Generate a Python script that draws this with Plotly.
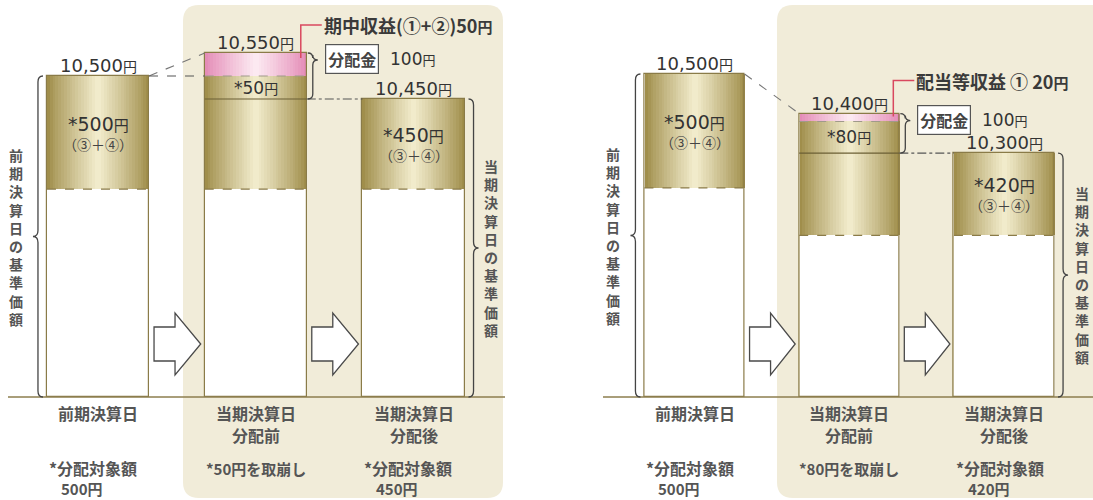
import plotly.graph_objects as go

W, H = 1093, 500
FONT = "Noto Sans CJK JP"
NUMFONT = "DejaVu Sans, Noto Sans CJK JP"
TXT = "#333333"
GRAYTXT = "#555555"

# ---------------- data ----------------
cat_top = ["前期決算日", "当期決算日", "当期決算日"]
cat_sub = ["", "分配前", "分配後"]
categories = ["前期決算日", "当期決算日 分配前", "当期決算日 分配後"]

# left example
nav_left = [10500, 10550, 10450]          # 基準価額
income_left = 50                          # 期中収益(①+②)
dividend_left = 100                       # 分配金
target_left = [500, 450]                  # 分配対象額 (前期, 分配後)
draw_left = 50                            # 取崩し

# right example
nav_right = [10500, 10400, 10300]
income_right = 20                         # 配当等収益 ①
dividend_right = 100
target_right = [500, 420]
draw_right = 80

income_text = ["期中収益(①+②)", "配当等収益 ① "]

# ---------------- styling constants ----------------
BW = 0.647
OLIVE = "#8a7b48"
GOLD_EDGE = (160, 142, 75)
GOLD_MID = (241, 235, 203)
PINK_EDGE = (228, 140, 183)
PINK_MID = (252, 233, 241)
BEIGE = "#f1ecd9"
RED = "#d9485f"

panels = [
    dict(xc0=98.0, dx=157.75, dom=(0.0, 0.5), anchor_v=10550, anchor_px=53.0, k=0.46, gap=254,
         nav=nav_left, inc=income_left, div=dividend_left, tgt=target_left, draw=draw_left,
         xa="x", ya="y", lead=28, vx=26),
    dict(xc0=694.5, dx=154.75, dom=(0.5, 1.0), anchor_v=10500, anchor_px=74.0, k=0.3956, gap=212,
         nav=nav_right, inc=income_right, div=dividend_right, tgt=target_right, draw=draw_right,
         xa="x2", ya="y2", lead=33, vx=28),
]
BASE_PX = 397.0
BREAK = 10000  # values at/below are drawn raised by 'gap' (white base not to scale)


def X(px):
    return px / W


def Y(py):
    return 1 - py / H


def mix(a, b, t):
    return "rgb(%d,%d,%d)" % tuple(round(a[i] + (b[i] - a[i]) * t) for i in range(3))


fig = go.Figure()
shapes = []
annotations = []


def ann(**kw):
    d = dict(showarrow=False, font=dict(family=FONT, size=15, color=TXT))
    f = kw.pop("font", {})
    d["font"].update(f)
    d.update(kw)
    annotations.append(d)


def path_shape(path, **kw):
    d = dict(type="path", path=path, xref="paper", yref="paper")
    d.update(kw)
    shapes.append(d)


def P(px, py):
    return "%.5f,%.5f" % (X(px), Y(py))


def brace(x, y0, y1, ytip, side, d=5, r=6):
    s = side
    xe = x - s * d
    xt = x + s * d
    p = "M" + P(xe, y0) + " Q" + P(x, y0) + " " + P(x, y0 + r)
    p += " L" + P(x, ytip - r) + " Q" + P(x, ytip) + " " + P(xt, ytip)
    p += " Q" + P(x, ytip) + " " + P(x, ytip + r)
    p += " L" + P(x, y1 - r) + " Q" + P(x, y1) + " " + P(xe, y1)
    path_shape(p, line=dict(color="#444", width=1.3))


def vtext(x, yc, s):
    ann(xref="paper", yref="paper", x=X(x), y=Y(yc), xanchor="center", yanchor="middle",
        text="<br>".join(s), font=dict(size=14, color=GRAYTXT, weight="bold"))


def yen(v, small=13):
    return f"{v:,}<span style='font-size:{small}px'>円</span>"


def rrect(x0, y0, x1, y1, r):
    p = "M" + P(x0 + r, y0) + " L" + P(x1 - r, y0) + " Q" + P(x1, y0) + " " + P(x1, y0 + r)
    p += " L" + P(x1, y1 - r) + " Q" + P(x1, y1) + " " + P(x1 - r, y1)
    p += " L" + P(x0 + r, y1) + " Q" + P(x0, y1) + " " + P(x0, y1 - r)
    p += " L" + P(x0, y0 + r) + " Q" + P(x0, y0) + " " + P(x0 + r, y0) + " Z"
    return p


path_shape(rrect(183, 5, 503, 498, 16), fillcolor=BEIGE, line=dict(width=0), layer="below")
path_shape(rrect(777, 5, 1110, 498, 16), fillcolor=BEIGE, line=dict(width=0), layer="below")

layout_axes = {}
for pi, pn in enumerate(panels):
    k = pn["k"]
    av, apx = pn["anchor_v"], pn["anchor_px"]
    y_floor = av - (BASE_PX - apx) / k
    y_top = av + apx / k
    d0, d1 = pn["dom"]
    r0 = -(pn["xc0"] - d0 * W) / pn["dx"]
    r1 = (d1 * W - pn["xc0"]) / pn["dx"]
    xname = "xaxis" if pi == 0 else "xaxis2"
    yname = "yaxis" if pi == 0 else "yaxis2"
    layout_axes[xname] = dict(domain=[d0, d1], range=[r0, r1], type="category",
                              categoryorder="array", categoryarray=categories,
                              visible=False, fixedrange=True, anchor=pn["ya"])
    layout_axes[yname] = dict(domain=[1 - BASE_PX / H, 1], range=[y_floor, y_top], visible=False,
                              anchor=pn["xa"], fixedrange=True)

    gap = pn["gap"]

    def disp(v):
        return v + gap if v <= BREAK else v

    def xpx(i):
        return pn["xc0"] + i * pn["dx"]

    def ypx(v):
        return apx + (av - disp(v)) * k

    nav, inc, div, tgt, draw = pn["nav"], pn["inc"], pn["div"], pn["tgt"], pn["draw"]
    pink = [0, inc, 0]
    gold_top = [nav[0], nav[1] - inc, nav[2]]
    gold_amt = [tgt[0], draw + tgt[1], tgt[1]]
    gold_base = [gold_top[i] - gold_amt[i] for i in range(3)]

    common = dict(xaxis=pn["xa"], yaxis=pn["ya"], hoverinfo="skip", showlegend=False)
    fig.add_trace(go.Bar(x=categories, y=[disp(b) - y_floor for b in gold_base], base=y_floor,
                         width=BW, marker=dict(color="white", line=dict(width=0)), **common))
    N = 18
    for s in range(N):
        t = (s / (N - 1)) ** 0.9
        w = BW * (1 - s / N)
        fig.add_trace(go.Bar(x=categories, y=[disp(gold_top[i]) - disp(gold_base[i]) for i in range(3)],
                             base=[disp(b) for b in gold_base], width=w,
                             marker=dict(color=mix(GOLD_EDGE, GOLD_MID, t), line=dict(width=0)), **common))
    for s in range(N):
        t = (s / (N - 1)) ** 0.9
        w = BW * (1 - s / N)
        fig.add_trace(go.Bar(x=categories, y=pink, base=[disp(g) for g in gold_top], width=w,
                             marker=dict(color=mix(PINK_EDGE, PINK_MID, t), line=dict(width=0)), **common))
    fig.add_trace(go.Bar(x=categories, y=[disp(v) - y_floor for v in nav], base=y_floor, width=BW,
                         marker=dict(color="rgba(0,0,0,0)", line=dict(color=OLIVE, width=1.2)), **common))

    for i in range(3):
        shapes.append(dict(type="line", xref=pn["xa"], yref=pn["ya"], x0=i - BW / 2, x1=i + BW / 2,
                           y0=disp(gold_base[i]), y1=disp(gold_base[i]),
                           line=dict(color=OLIVE, width=1.3, dash="dash")))
    shapes.append(dict(type="line", xref=pn["xa"], yref=pn["ya"], x0=1 - BW / 2, x1=1 + BW / 2,
                       y0=disp(gold_top[1]), y1=disp(gold_top[1]),
                       line=dict(color="#a09a8a", width=1.1, dash="dash")))
    shapes.append(dict(type="line", xref=pn["xa"], yref=pn["ya"], x0=1 - BW / 2, x1=1 + BW / 2,
                       y0=disp(nav[2]), y1=disp(nav[2]), line=dict(color="#6b5f35", width=1.2)))
    shapes.append(dict(type="line", xref=pn["xa"], yref=pn["ya"], x0=BW / 2, x1=1 - BW / 2,
                       y0=disp(nav[0]), y1=disp(nav[1]), line=dict(color="#777", width=1.1, dash="dash")))
    if pi == 0:
        shapes.append(dict(type="line", xref=pn["xa"], yref=pn["ya"], x0=BW / 2, x1=1 - BW / 2,
                           y0=disp(nav[0]), y1=disp(nav[0]), line=dict(color="#555", width=1.1, dash="dash")))
    shapes.append(dict(type="line", xref=pn["xa"], yref=pn["ya"], x0=1 + BW / 2, x1=2 - BW / 2,
                       y0=disp(nav[2]), y1=disp(nav[2]), line=dict(color="#555", width=1.2, dash="dashdot")))

    bl0 = 8 if pi == 0 else 603
    bl1 = 505 if pi == 0 else 1093
    shapes.append(dict(type="line", xref="paper", yref="paper", x0=X(bl0), x1=X(bl1),
                       y0=Y(BASE_PX), y1=Y(BASE_PX), line=dict(color="#8c7e4e", width=1.6)))

    half = BW / 2 * pn["dx"]
    for g in range(2):
        ax0 = xpx(g) + half + 5
        ax1 = xpx(g + 1) - half - 4
        xs = ax0 + 21
        p = "M" + P(ax0, 327) + " L" + P(xs, 327) + " L" + P(xs, 313) + " L" + P(ax1, 344)
        p += " L" + P(xs, 375) + " L" + P(xs, 361) + " L" + P(ax0, 361) + " Z"
        path_shape(p, fillcolor="white", line=dict(color="#4a4a4a", width=1.3))

    brace(xpx(0) - half - 9, ypx(nav[0]), BASE_PX, (ypx(nav[0]) + BASE_PX) / 2, -1)
    brace(xpx(2) + half + 9, ypx(nav[2]), BASE_PX, (ypx(nav[2]) + BASE_PX) / 2, +1)
    tip = ypx(nav[1]) + 7
    brace(xpx(1) + half + 6, ypx(nav[1]), ypx(nav[2]), tip, +1, d=5, r=5)

    vtext(xpx(0) - half - 31, (ypx(nav[0]) + BASE_PX) / 2, "前期決算日の基準価額")
    vtext(xpx(2) + half + pn["vx"], (ypx(nav[2]) + BASE_PX) / 2, "当期決算日の基準価額")

    for i in range(3):
        ann(xref=pn["xa"], yref=pn["ya"], x=categories[i], y=disp(nav[i]), yanchor="bottom",
            text=yen(nav[i], 14), font=dict(size=18, family=NUMFONT), yshift=-2)

    for i, amt in ((0, tgt[0]), (2, tgt[1])):
        mid = (disp(gold_top[i]) + disp(gold_base[i])) / 2
        ann(xref=pn["xa"], yref=pn["ya"], x=categories[i], y=mid, yanchor="middle",
            text=f"*{amt}<span style='font-size:15px'>円</span>", font=dict(size=19, family=NUMFONT), yshift=9)
        ann(xref=pn["xa"], yref=pn["ya"], x=categories[i], y=mid, yanchor="middle",
            text="（③＋④）", font=dict(size=14, color="#444"), yshift=-11)
    mid = (disp(gold_top[1]) + disp(nav[2])) / 2
    ann(xref=pn["xa"], yref=pn["ya"], x=categories[1], y=mid, yanchor="middle",
        text=f"*{draw}<span style='font-size:14px'>円</span>", font=dict(size=17, family=NUMFONT))

    bx = xpx(1) + half + 18
    ann(xref="paper", yref="paper", x=X(bx), y=Y(tip - 1), xanchor="left", yanchor="middle",
        text="<b>分配金</b>", font=dict(size=16, color="#444"), bgcolor="white",
        bordercolor="#555", borderwidth=1.2, borderpad=2)
    ann(xref="paper", yref="paper", x=X(bx + 63), y=Y(tip - 1), xanchor="left", yanchor="middle",
        text=yen(div, 13), font=dict(size=17, family=NUMFONT))

    lx = xpx(1) + half - 6
    ly0 = ypx(nav[1]) + (5 if pi == 0 else 3)
    ly1 = ypx(nav[1]) - pn["lead"]
    path_shape("M" + P(lx, ly0) + " L" + P(lx, ly1) + " L" + P(lx + 21, ly1),
               line=dict(color=RED, width=1.5))
    ann(xref="paper", yref="paper", x=X(lx + 21), y=Y(ly1), xanchor="left", yanchor="middle",
        text=income_text[pi] + yen(inc, 15), font=dict(size=18, weight="bold", color="#3a3a3a"))

    for i in range(3):
        ann(xref=pn["xa"], yref="paper", x=categories[i], y=Y(413), yanchor="middle",
            text=cat_top[i], font=dict(size=16, color=GRAYTXT, weight="bold"))
        if cat_sub[i]:
            ann(xref=pn["xa"], yref="paper", x=categories[i], y=Y(435), yanchor="middle",
                text=cat_sub[i], font=dict(size=16, color=GRAYTXT, weight="bold"))
    for i, amt in ((0, tgt[0]), (2, tgt[1])):
        lx0 = xpx(i) - half
        ann(xref="paper", yref="paper", x=X(lx0), y=Y(468), xanchor="left", yanchor="middle",
            text="*分配対象額", font=dict(size=16, color=GRAYTXT, weight="bold"))
        ann(xref="paper", yref="paper", x=X(lx0 + 12), y=Y(488), xanchor="left", yanchor="middle",
            text=f"{amt}円", font=dict(size=15, color=GRAYTXT, weight="bold"))
    ann(xref=pn["xa"], yref="paper", x=categories[1], y=Y(468), yanchor="middle",
        text=f"*{draw}円を取崩し", font=dict(size=15, color=GRAYTXT, weight="bold"))

fig.update_layout(
    width=W, height=H, margin=dict(l=0, r=0, t=0, b=0),
    paper_bgcolor="white", plot_bgcolor="rgba(0,0,0,0)",
    barmode="overlay", bargap=0, showlegend=False,
    shapes=shapes, annotations=annotations,
    font=dict(family=FONT, color=TXT),
    **layout_axes,
)
fig.write_html("out.html", config={"displayModeBar": False},
               post_script="document.body.style.margin='0px';")
